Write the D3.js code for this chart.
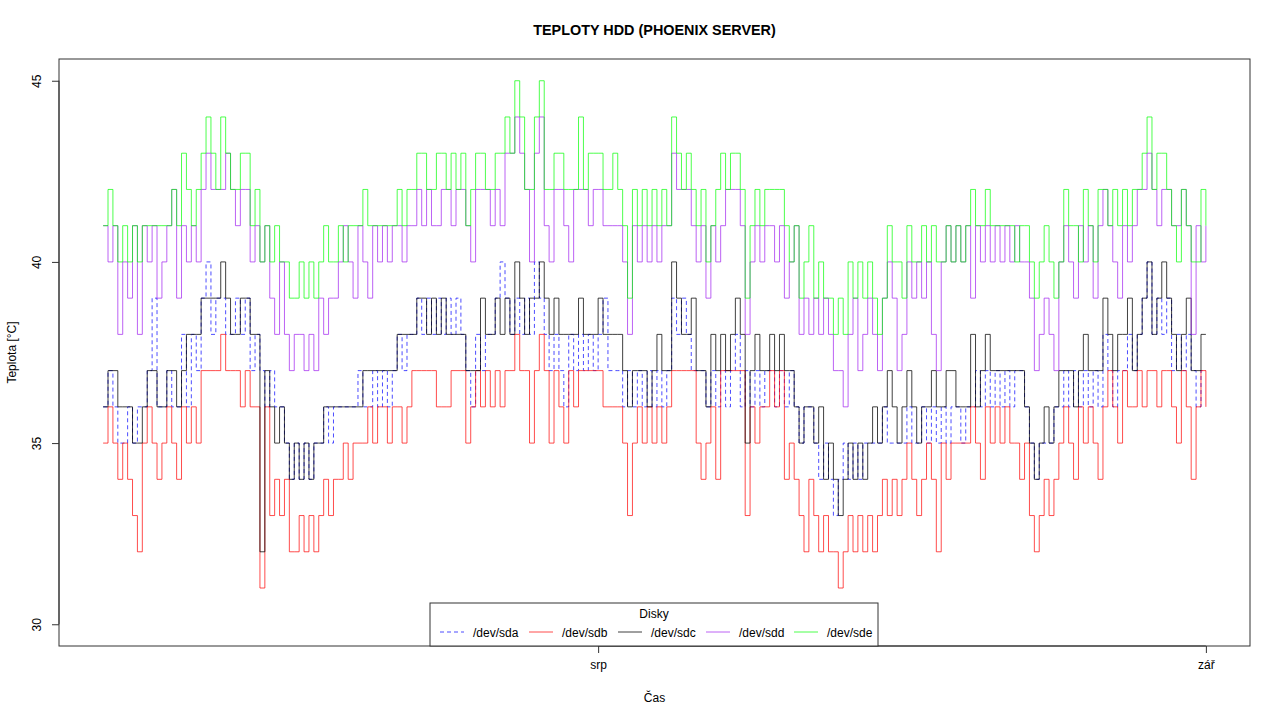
<!DOCTYPE html>
<html>
<head>
<meta charset="utf-8">
<script src="https://cdn.jsdelivr.net/npm/d3@7/dist/d3.min.js"></script>
<style>
html,body{margin:0;padding:0;background:#fff;}
svg{display:block;font-family:"Liberation Sans",Arial,sans-serif;}
</style>
</head>
<body>
<svg id="chart" width="1280" height="720"></svg>
<script>
// ---- data (6-hour readings, starting 6 Jul 18:00 UTC) ----
const startISO = "2011-07-06T18:00:00Z";
const stepHours = 6;
const seriesNames = ["/dev/sda", "/dev/sdb", "/dev/sdc", "/dev/sdd", "/dev/sde"];
const yTicks = [30, 35, 40, 45];
const xTickDates = ["2011-08-01T00:00:00Z", "2011-09-01T00:00:00Z"];
const xTickLabels = ["srp", "zář"];

const sda = [
36,37,36,35,35,36,35,36,36,37, 39,36,36,37,36,36,38,36,38,37, 39,40,38,39,39,38,38,39,38,39, 37,38,37,36,37,36,36,35,
34,35,34,35,34,35,35,36,35,36, 36,36,36,36,37,36,36,37,36,37, 36,37,38,37,38,38,39,38,39,38, 39,38,39,38,39,38,
37,36,38,37,38,38,39,40,39,38, 39,38,39,38,40,39,38,37,38,37, 36,38,37,38,37,38,37,38,39,37, 37,37,36,37,36,37,36,37,
36,37,36,37,39,38,39,38,37,37, 37,36,37,36,37,36,37,38,36,37, 36,37,36,37,37,36,37,36,37,36, 35,36,36,35,34,35,34,33,
34,35,34,35,34,35,35,35,35,36, 35,35,35,35,36,35,35,36,35,36, 35,36,35,36,36,35,36,36,37,36, 37,36,37,36,37,36,37,37,
36,35,34,35,35,35,36,36,37,36, 37,36,37,36,37,36,38,37,36,37, 37,38,37,38,39,40,38,39,38,39, 37,38,37,38,37,36,37,37
];
const sdb = [
35,36,35,34,35,34,33,32,35,36, 35,34,35,36,35,34,36,35,36,35, 37,37,37,37,38,37,37,37,36,37, 36,36,31,36,33,34,33,34,
32,32,33,32,33,32,33,34,33,34, 34,35,34,35,35,35,36,35,36,36, 35,36,36,35,36,37,37,37,37,37, 36,36,36,37,37,37,
35,36,37,36,37,36,37,36,37,37, 38,37,37,35,37,38,37,35,37,36, 35,37,36,37,37,37,37,37,36,36, 36,36,35,33,35,36,35,36,
35,36,35,36,37,37,37,37,37,35, 34,35,36,34,37,37,37,37,37,33, 36,35,36,36,37,36,37,34,35,34, 33,32,34,33,32,33,32,32,
31,32,33,32,33,32,33,32,33,34, 33,34,33,34,35,34,33,34,35,34, 32,35,34,35,35,35,35,36,35,34, 36,35,36,35,36,35,35,34,
35,33,32,33,34,33,34,35,36,35, 34,36,35,36,35,34,36,37,36,35, 37,36,36,37,36,37,37,36,37,37, 36,35,37,36,34,36,37,36
];
const sdc = [
36,37,37,36,36,36,35,35,36,37, 37,36,36,37,37,36,37,38,38,38, 39,39,39,39,40,39,38,38,39,39, 38,38,32,37,36,35,36,35,
34,35,34,35,34,35,35,36,36,36, 36,36,36,36,36,37,37,37,37,37, 37,37,38,38,38,38,39,39,38,39, 38,39,38,38,38,38,
37,37,37,39,38,38,39,38,39,38, 40,39,38,39,39,40,39,38,39,38, 38,38,38,39,38,38,38,39,38,38, 38,38,37,36,37,37,37,36,
37,38,37,37,40,39,38,38,39,37, 37,36,38,37,38,37,38,39,38,35, 37,38,37,37,38,37,38,37,37,36, 35,36,36,35,36,34,35,34,
33,34,35,34,35,34,35,36,35,36, 37,36,35,36,37,36,35,36,36,37, 36,36,37,37,36,36,36,38,36,37, 38,37,37,37,37,37,37,37,
36,35,34,35,36,35,36,37,37,37, 36,37,38,37,37,37,39,38,37,38, 38,39,37,38,39,40,38,39,40,39, 38,37,38,39,37,37,38,38
];
const sdd = [
41,40,41,38,40,39,41,38,41,40, 41,39,40,41,42,39,41,40,41,40, 42,43,42,42,42,43,42,41,42,42, 40,41,40,41,39,38,40,38,
37,38,38,37,38,37,39,38,39,39, 40,41,40,39,41,40,39,41,40,41, 40,41,41,40,41,41,42,41,42,41, 41,42,42,41,42,42,
41,40,42,42,42,41,42,41,43,43, 44,43,42,40,43,44,41,40,42,42, 41,40,42,42,42,41,42,42,41,41, 41,41,40,38,41,40,41,40,
41,40,41,41,43,42,42,42,41,40, 41,39,41,40,41,42,42,42,41,38, 40,41,40,41,41,40,41,39,40,41, 38,39,38,39,38,39,38,37,
37,36,38,39,37,38,39,38,37,39, 40,39,37,38,40,39,40,39,40,38, 37,40,41,40,41,40,41,39,41,40, 41,40,41,40,41,40,41,40,
40,39,37,38,39,38,37,40,41,40, 39,41,40,41,39,41,42,41,40,39, 41,40,41,42,42,43,42,41,42,42, 41,41,42,41,38,41,40,41
];
const sde = [
41,42,41,40,41,40,41,40,41,41, 41,41,41,41,42,41,43,42,41,42, 43,44,43,42,44,43,42,42,43,43, 41,42,40,41,40,41,40,40,
39,39,40,39,40,39,40,41,40,40, 41,40,41,41,41,42,41,41,41,41, 41,41,42,41,42,42,43,43,42,42, 43,43,42,43,42,43,
41,42,43,43,42,42,43,43,44,43, 45,44,42,42,44,45,42,42,43,43, 42,42,42,44,42,43,43,43,42,42, 43,42,41,39,42,41,42,41,
42,41,42,41,44,43,42,43,42,41, 42,40,41,42,43,42,43,43,42,39, 41,42,41,42,42,42,42,41,40,41, 39,40,41,39,40,39,39,38,
39,38,40,39,40,39,40,39,38,39, 41,40,40,39,41,40,40,41,40,41, 40,40,41,40,41,40,41,42,41,41, 42,41,41,41,41,41,40,41,
41,40,39,40,41,40,39,40,42,41, 41,40,42,41,40,42,42,41,42,41, 42,41,42,42,43,44,42,43,43,42, 41,40,42,41,40,40,42,41
];

// ---- layout ----
const plot = {left: 59, right: 1250, top: 59, bottom: 646};
const styles = [
  {color: "rgba(0,0,255,0.7)", dash: "4,3"},
  {color: "rgba(255,0,0,0.7)", dash: null},
  {color: "rgba(0,0,0,0.75)", dash: null},
  {color: "rgba(160,32,240,0.7)", dash: null},
  {color: "rgba(0,255,0,0.7)", dash: null}
];
const allSeries = [sda, sdb, sdc, sdd, sde];

const t0 = new Date(startISO);
const times = sda.map((_, i) => new Date(t0.getTime() + i * stepHours * 3600e3));
const tMin = times[0].getTime(), tMax = times[times.length - 1].getTime();
const pad = 0.04 * (tMax - tMin);

const x = d3.scaleUtc()
  .domain([new Date(tMin - pad), new Date(tMax + pad)])
  .range([plot.left, plot.right]);
const yMin = 30, yMax = 45, yPad = 0.04 * (yMax - yMin);
const y = d3.scaleLinear()
  .domain([yMin - yPad, yMax + yPad])
  .range([plot.bottom, plot.top]);

const svg = d3.select("#chart");

// lines
const line = d3.line()
  .x(d => x(d[0]))
  .y(d => y(d[1]))
  .curve(d3.curveStepAfter);

const g = svg.append("g");
allSeries.forEach((vals, k) => {
  const pts = vals.map((v, i) => [times[i], v]);
  g.append("path")
    .datum(pts)
    .attr("d", line)
    .attr("fill", "none")
    .attr("stroke", styles[k].color)
    .attr("stroke-width", 1)
    .attr("stroke-dasharray", styles[k].dash);
});

// box
svg.append("rect")
  .attr("x", plot.left).attr("y", plot.top)
  .attr("width", plot.right - plot.left).attr("height", plot.bottom - plot.top)
  .attr("fill", "none").attr("stroke", "#333").attr("stroke-width", 1);

// y axis
const yAxis = d3.axisLeft(y).tickValues(yTicks).tickSize(7).tickFormat(d3.format("d"));
const ya = svg.append("g").attr("transform", `translate(${plot.left},0)`).call(yAxis);
ya.select(".domain").attr("d", `M0,${y(yMin)}V${y(yMax)}`).attr("stroke", "#333");
ya.selectAll(".tick line").attr("stroke", "#333");
ya.selectAll(".tick text").each(function(){
  d3.select(this).attr("x", null).attr("dy", null).attr("y", null)
   .attr("transform", "translate(-18,0) rotate(-90)")
   .attr("text-anchor", "middle").attr("font-size", 12).attr("fill", "#000");
});

// x axis
const xDates = xTickDates.map(s => new Date(s));
const xAxis = d3.axisBottom(x).tickValues(xDates).tickSize(7).tickPadding(7)
  .tickFormat((d, i) => xTickLabels[i]);
const xa = svg.append("g").attr("transform", `translate(0,${plot.bottom})`).call(xAxis);
xa.select(".domain").attr("d", `M${x(xDates[0])},0H${x(xDates[xDates.length-1])}`).attr("stroke", "#333");
xa.selectAll(".tick line").attr("stroke", "#333");
xa.selectAll(".tick text").attr("font-size", 12).attr("fill", "#000");
svg.selectAll(".tick text").attr("font-family", "Liberation Sans, Arial, sans-serif");

// titles
svg.append("text").attr("x", (plot.left + plot.right) / 2).attr("y", 35)
  .attr("text-anchor", "middle").attr("font-size", 14.4).attr("font-weight", "bold")
  .text("TEPLOTY HDD (PHOENIX SERVER)");
svg.append("text").attr("x", (plot.left + plot.right) / 2).attr("y", 702)
  .attr("text-anchor", "middle").attr("font-size", 12).text("Čas");
svg.append("text").attr("transform", `translate(16,${(plot.top + plot.bottom) / 2}) rotate(-90)`)
  .attr("text-anchor", "middle").attr("font-size", 12).text("Teplota [°C]");

// legend
const lg = svg.append("g");
lg.append("rect").attr("x", 430).attr("y", 603).attr("width", 448).attr("height", 43)
  .attr("fill", "#fff").attr("stroke", "#333").attr("stroke-width", 1);
lg.append("text").attr("x", 654).attr("y", 618).attr("text-anchor", "middle")
  .attr("font-size", 12).text("Disky");
const legX = [440, 529, 618, 706, 794];
seriesNames.forEach((name, k) => {
  lg.append("line").attr("x1", legX[k]).attr("x2", legX[k] + 24)
    .attr("y1", 632).attr("y2", 632)
    .attr("stroke", styles[k].color).attr("stroke-width", 1)
    .attr("stroke-dasharray", styles[k].dash);
  lg.append("text").attr("x", legX[k] + 33).attr("y", 636.5)
    .attr("font-size", 12).text(name);
});
</script>
</body>
</html>
